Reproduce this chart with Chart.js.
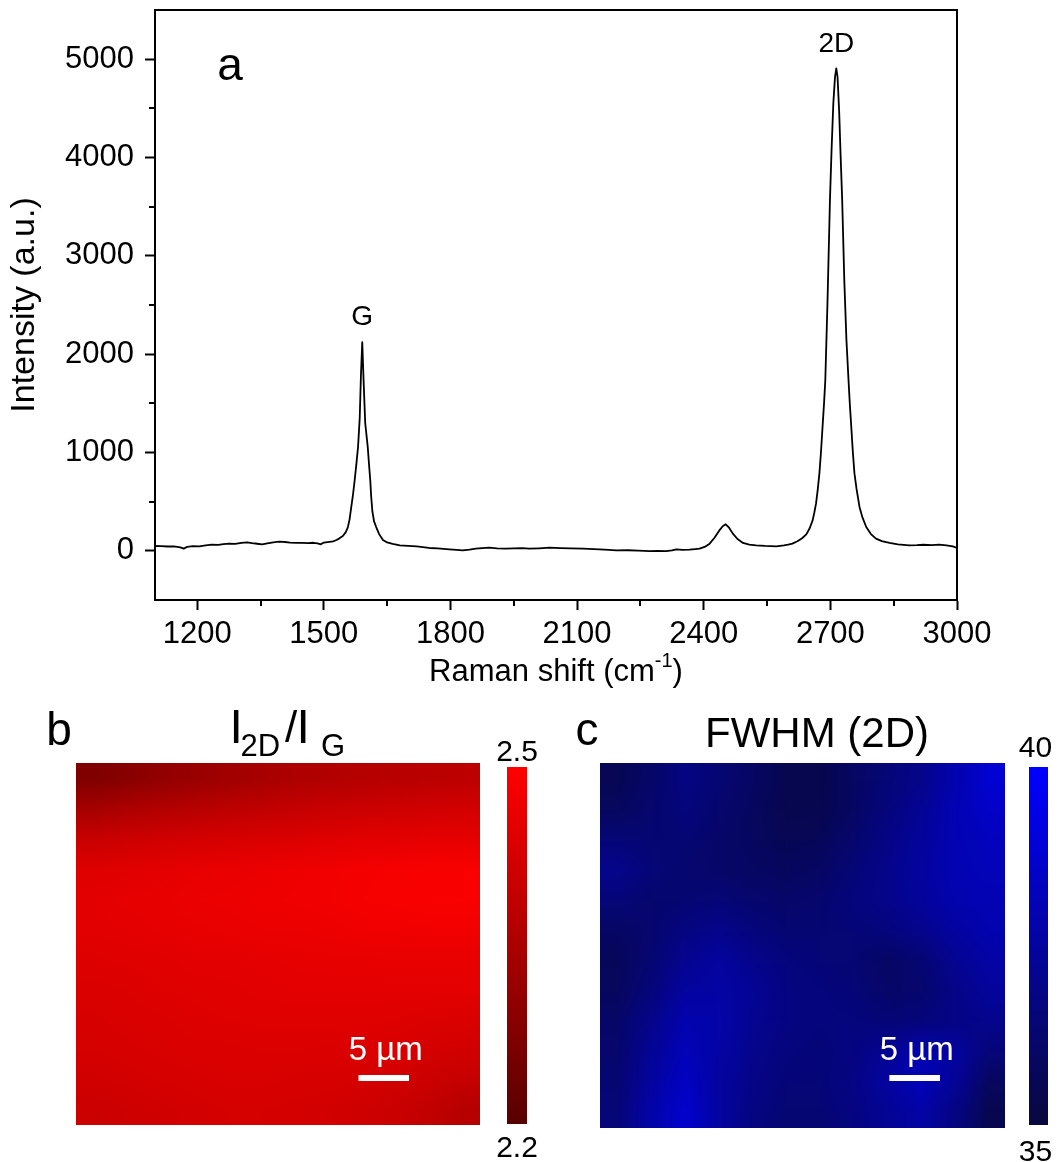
<!DOCTYPE html>
<html>
<head>
<meta charset="utf-8">
<script src="https://cdn.jsdelivr.net/npm/chart.js@4.4.0/dist/chart.umd.min.js"></script>
<style>
  html, body { margin: 0; padding: 0; background: #fff; }
  #wrap { position: relative; width: 1060px; height: 1162px; overflow: hidden; }
  canvas { position: absolute; }
</style>
</head>
<body>
<div id="wrap">
  <canvas id="spec" width="1060" height="690" style="left:0;top:0"></canvas>
  <!-- the 12x12 maps are drawn one pixel per cell and scaled up by the browser -->
  <canvas id="mapB" width="12" height="12" style="left:76px;top:763px;width:404px;height:362px"></canvas>
  <canvas id="mapC" width="12" height="12" style="left:600px;top:763px;width:405px;height:365px"></canvas>
  <canvas id="barB" width="545" height="472" style="left:0;top:690px"></canvas>
  <canvas id="barC" width="530" height="472" style="left:530px;top:690px"></canvas>
</div>
<script>
const FONT = "'Liberation Sans', Arial, sans-serif";
Chart.defaults.font.family = FONT;
Chart.defaults.color = '#000';

// ---- panel a: Raman spectrum ----
const shift = [1100, 1115, 1130, 1145, 1160, 1168, 1176, 1190, 1205, 1220, 1235, 1250, 1262, 1275, 1290,
  1305, 1318, 1330, 1342, 1354, 1366, 1380, 1394, 1408, 1420, 1435, 1449, 1462, 1475, 1485, 1493, 1500,
  1513, 1522, 1530, 1537, 1545, 1552, 1557, 1561, 1565, 1569, 1573, 1577, 1581, 1585, 1588, 1591,
  1594, 1598, 1604, 1607, 1610, 1612, 1615, 1619, 1624, 1631, 1640, 1650, 1663, 1680, 1700,
  1720, 1749, 1770, 1797, 1815, 1829, 1845, 1860, 1875, 1892, 1910, 1931, 1950, 1970, 1987, 2010, 2035,
  2060, 2085, 2114, 2140, 2165, 2193, 2220, 2245, 2272, 2290, 2311, 2325, 2335, 2350, 2366, 2380, 2390,
  2402, 2414, 2425, 2437, 2445, 2452, 2460, 2469, 2480, 2493, 2508, 2524, 2545, 2572, 2590, 2600, 2610,
  2622, 2633, 2643, 2651, 2658, 2662, 2666, 2670, 2674, 2678, 2682, 2685, 2688, 2693, 2699, 2703, 2707,
  2711, 2714, 2717, 2721, 2724, 2728, 2733, 2738, 2743, 2746, 2749, 2753, 2757, 2762, 2769, 2776, 2785,
  2796, 2808, 2822, 2840, 2860, 2887, 2905, 2920, 2940, 2958, 2975, 2990, 3000];
const intensity = [49, 47, 44, 46, 35, 22, 40, 48, 46, 55, 63, 60, 68, 73, 70,
  80, 86, 78, 72, 66, 75, 85, 93, 90, 84, 80, 80, 78, 82, 76, 66, 84,
  92, 96, 110, 127, 150, 190, 242, 320, 446, 570, 717, 880, 1056, 1350, 1800, 2121,
  1750, 1300, 1056, 880, 717, 560, 400, 300, 242, 170, 110, 85, 70, 55, 50,
  45, 29, 25, 15, 10, 5, 12, 22, 28, 32, 26, 22, 25, 28, 22, 26, 32,
  28, 24, 22, 18, 12, 5, 6, 2, -2, 0, -2, 4, 15, 10, 12, 18, 22,
  40, 73, 130, 208, 250, 270, 235, 175, 120, 80, 64, 56, 50, 46, 55, 62, 73,
  97, 128, 168, 230, 310, 390, 480, 620, 785, 1020, 1297, 1500, 1735, 2500, 3565, 4100, 4550,
  4820, 4905, 4820, 4450, 4050, 3565, 2750, 2150, 1735, 1500, 1297, 1020, 790, 630, 446, 340, 242,
  170, 124, 98, 80, 66, 56, 58, 62, 58, 63, 55, 45, 30];

const xTicks = [1200, 1500, 1800, 2100, 2400, 2700, 3000];
const xMinor = [1350, 1650, 1950, 2250, 2550, 2850];
const yTicks = [0, 1000, 2000, 3000, 4000, 5000];
const yMinor = [500, 1500, 2500, 3500, 4500];

const peakNames = ['G', '2D'];
const peakShift = [1591, 2714];
const peakHeight = [2121, 4905];

// ---- panels b, c: 12 x 12 maps, rows top to bottom ----
const ratioGrid = [
  [2.271, 2.288, 2.306, 2.318, 2.332, 2.343, 2.354, 2.361, 2.368, 2.373, 2.378, 2.382],
  [2.341, 2.354, 2.364, 2.373, 2.382, 2.389, 2.396, 2.403, 2.408, 2.414, 2.417, 2.421],
  [2.403, 2.410, 2.417, 2.422, 2.428, 2.433, 2.438, 2.444, 2.449, 2.452, 2.456, 2.456],
  [2.442, 2.447, 2.452, 2.458, 2.463, 2.466, 2.472, 2.477, 2.482, 2.486, 2.489, 2.491],
  [2.452, 2.456, 2.459, 2.465, 2.468, 2.472, 2.475, 2.479, 2.484, 2.488, 2.491, 2.491],
  [2.449, 2.452, 2.456, 2.459, 2.463, 2.465, 2.466, 2.470, 2.474, 2.475, 2.477, 2.477],
  [2.440, 2.444, 2.447, 2.451, 2.452, 2.454, 2.456, 2.458, 2.459, 2.461, 2.461, 2.461],
  [2.435, 2.438, 2.442, 2.445, 2.447, 2.449, 2.451, 2.452, 2.452, 2.452, 2.452, 2.451],
  [2.429, 2.433, 2.436, 2.440, 2.442, 2.444, 2.445, 2.445, 2.444, 2.442, 2.438, 2.435],
  [2.424, 2.428, 2.431, 2.435, 2.436, 2.438, 2.438, 2.436, 2.435, 2.431, 2.424, 2.417],
  [2.417, 2.421, 2.424, 2.428, 2.431, 2.431, 2.429, 2.428, 2.424, 2.417, 2.406, 2.396],
  [2.406, 2.412, 2.417, 2.421, 2.424, 2.424, 2.422, 2.419, 2.414, 2.403, 2.389, 2.368]
];
const fwhmGrid = [
  [35.60, 36.11, 36.76, 36.37, 35.98, 35.47, 35.41, 35.98, 36.50, 37.02, 37.93, 38.83],
  [35.86, 36.24, 36.63, 36.24, 35.86, 35.47, 35.47, 35.98, 36.63, 37.28, 38.06, 38.58],
  [36.50, 36.37, 36.37, 36.11, 35.86, 35.60, 35.73, 36.24, 36.89, 37.41, 38.06, 38.32],
  [37.02, 36.50, 36.24, 36.11, 35.98, 35.86, 35.98, 36.50, 37.02, 37.54, 38.06, 38.19],
  [36.50, 36.24, 36.37, 36.50, 36.24, 36.11, 36.24, 36.63, 37.02, 37.41, 37.93, 38.06],
  [35.98, 36.24, 36.76, 37.02, 36.63, 36.37, 36.37, 36.50, 36.63, 37.02, 37.54, 37.93],
  [35.73, 36.37, 37.15, 37.54, 37.02, 36.63, 36.50, 36.37, 35.98, 36.37, 37.15, 37.67],
  [35.86, 36.63, 37.54, 37.67, 37.28, 36.76, 36.63, 36.50, 36.11, 36.24, 36.89, 37.41],
  [36.11, 37.02, 37.93, 37.80, 37.15, 36.76, 36.63, 36.63, 36.50, 36.63, 36.89, 37.02],
  [36.24, 37.28, 38.19, 37.67, 37.02, 36.63, 36.50, 36.76, 37.28, 37.93, 37.54, 36.50],
  [36.37, 37.54, 38.45, 37.54, 36.89, 36.50, 36.50, 36.89, 37.54, 38.19, 37.28, 35.86],
  [36.50, 37.80, 38.71, 37.54, 36.76, 36.37, 36.37, 36.76, 37.28, 37.67, 36.76, 35.47]
];
const ratioRange = [2.2, 2.5];
const fwhmRange = [35, 40];
const ratioBarLabels = ['2.2', '2.5'];
const fwhmBarLabels = ['35', '40'];
const mapWidthUm = 40;
const scaleBarUm = 5;
const scaleBarText = '5 \u00b5m';

function redOf(v) {
  const t = Math.max(0, Math.min(1, (v - ratioRange[0]) / (ratioRange[1] - ratioRange[0])));
  return `rgb(${Math.round(88 + 167 * t)},0,0)`;
}
function blueOf(v) {
  const t = Math.max(0, Math.min(1, (v - fwhmRange[0]) / (fwhmRange[1] - fwhmRange[0])));
  const g = Math.round(8 - 8 * t);
  return `rgb(${g},${g},${Math.round(62 + 193 * t)})`;
}

// frame, minor ticks, peak names, panel letter, x title
const specDecor = {
  id: 'specDecor',
  afterDraw(chart) {
    const {ctx, chartArea: a, scales: {x, y}} = chart;
    ctx.save();
    ctx.strokeStyle = '#000';
    ctx.lineWidth = 2;
    ctx.beginPath();
    ctx.moveTo(a.left - 1, a.top);
    ctx.lineTo(a.right, a.top);
    ctx.lineTo(a.right, a.bottom + 1);
    ctx.stroke();

    ctx.beginPath();
    xMinor.forEach(v => {
      const px = Math.round(x.getPixelForValue(v));
      ctx.moveTo(px, a.bottom);
      ctx.lineTo(px, a.bottom + 6);
    });
    yMinor.forEach(v => {
      const py = Math.round(y.getPixelForValue(v));
      ctx.moveTo(a.left, py);
      ctx.lineTo(a.left - 6, py);
    });
    ctx.stroke();

    ctx.fillStyle = '#000';
    ctx.textAlign = 'center';
    ctx.textBaseline = 'alphabetic';
    ctx.font = `28px ${FONT}`;
    peakNames.forEach((n, i) => {
      ctx.fillText(n, x.getPixelForValue(peakShift[i]), y.getPixelForValue(peakHeight[i]) - 17);
    });

    ctx.font = `46px ${FONT}`;
    ctx.fillText('a', a.left + 75, a.top + 70);

    // x axis title with superscript
    const t1 = 'Raman shift (cm', t2 = '-1', t3 = ')';
    ctx.font = `31px ${FONT}`;
    const w1 = ctx.measureText(t1).width, w3 = ctx.measureText(t3).width;
    ctx.font = `20px ${FONT}`;
    const w2 = ctx.measureText(t2).width;
    let sx = (a.left + a.right) / 2 - (w1 + w2 + w3) / 2;
    const base = a.bottom + 81;
    ctx.textAlign = 'left';
    ctx.font = `31px ${FONT}`;
    ctx.fillText(t1, sx, base);
    sx += w1;
    ctx.font = `20px ${FONT}`;
    ctx.fillText(t2, sx, base - 14);
    sx += w2;
    ctx.font = `31px ${FONT}`;
    ctx.fillText(t3, sx, base);
    ctx.restore();
  }
};

new Chart(document.getElementById('spec'), {
  type: 'line',
  data: {
    datasets: [{
      data: shift.map((s, i) => ({x: s, y: intensity[i]})),
      borderColor: '#000',
      borderWidth: 1.8,
      borderJoinStyle: 'round',
      pointRadius: 0,
      tension: 0,
      fill: false
    }]
  },
  options: {
    responsive: false,
    animation: false,
    devicePixelRatio: 1,
    layout: {padding: {left: 0, top: 10, right: 103, bottom: 0}},
    plugins: {legend: {display: false}, tooltip: {enabled: false}},
    scales: {
      x: {
        type: 'linear',
        min: 1100,
        max: 3000,
        afterBuildTicks: s => { s.ticks = xTicks.map(v => ({value: v})); },
        afterFit: s => { s.height = 90; s.paddingLeft = 0; s.paddingRight = 0; },
        ticks: {autoSkip: false, maxRotation: 0, minRotation: 0, font: {size: 31}, color: '#000', padding: 6,
          callback: v => String(v)},
        grid: {drawOnChartArea: false, drawTicks: true, tickLength: 10, tickWidth: 2, tickColor: '#000'},
        border: {display: true, color: '#000', width: 2}
      },
      y: {
        min: -500,
        max: 5500,
        afterBuildTicks: s => { s.ticks = yTicks.map(v => ({value: v})); },
        afterFit: s => { s.width = 155; s.paddingTop = 0; s.paddingBottom = 0; },
        ticks: {autoSkip: false, font: {size: 31}, color: '#000', padding: 11, callback: v => String(v)},
        grid: {drawOnChartArea: false, drawTicks: true, tickLength: 10, tickWidth: 2, tickColor: '#000'},
        border: {display: true, color: '#000', width: 2},
        title: {display: true, text: 'Intensity (a.u.)', font: {size: 34}, color: '#000', padding: {top: 4, bottom: 0}}
      }
    }
  },
  plugins: [specDecor]
});

// ---- maps: one pixel per cell ----
function mapChart(id, grid, colorOf) {
  const labels = grid[0].map((_, i) => i);
  const datasets = grid.slice().reverse().map(row => ({
    data: row.map(() => 1),
    backgroundColor: row.map(v => colorOf(v)),
    borderWidth: 0,
    inflateAmount: 0,
    barPercentage: 1,
    categoryPercentage: 1,
    stack: 'map'
  }));
  return new Chart(document.getElementById(id), {
    type: 'bar',
    data: {labels, datasets},
    options: {
      responsive: false,
      animation: false,
      devicePixelRatio: 1,
      layout: {padding: 0},
      plugins: {legend: {display: false}, tooltip: {enabled: false}},
      scales: {
        x: {display: false, stacked: true},
        y: {display: false, stacked: true, min: 0, max: grid.length}
      }
    }
  });
}

mapChart('mapB', ratioGrid, redOf);
mapChart('mapC', fwhmGrid, blueOf);

// ---- colour bars with panel letter, title and scale bar ----
const panelDecor = {
  id: 'panelDecor',
  afterDraw(chart, args, opts) {
    const {ctx, chartArea: a} = chart;
    ctx.save();
    ctx.fillStyle = '#000';
    ctx.textBaseline = 'alphabetic';
    ctx.textAlign = 'center';

    // colour bar end labels
    const cx = (a.left + a.right) / 2 + opts.dx;
    ctx.font = `30px ${FONT}`;
    ctx.fillText(opts.labels[1], cx, a.top - opts.topGap);
    ctx.fillText(opts.labels[0], cx, a.bottom + opts.bottomGap);

    ctx.font = `46px ${FONT}`;
    ctx.fillText(opts.letter, opts.letterX, opts.letterY);
    opts.title.forEach(p => {
      ctx.font = `${p.size}px ${FONT}`;
      ctx.textAlign = p.center ? 'center' : 'left';
      ctx.fillText(p.text, p.x, p.y);
    });

    const m = opts.map;
    const len = (m.right - m.left) * scaleBarUm / mapWidthUm;
    const bx = m.right - opts.barRight - len;
    const by = m.bottom - opts.barBottom - 6;
    ctx.fillStyle = '#fff';
    ctx.fillRect(bx, by, len, 6);
    ctx.textAlign = 'center';
    ctx.font = `33px ${FONT}`;
    ctx.fillText(scaleBarText, bx + len / 2 + 2, by - 15);
    ctx.restore();
  }
};

function colorBar(id, range, colorOf, padding, decor) {
  return new Chart(document.getElementById(id), {
    type: 'bar',
    data: {
      labels: ['scale'],
      datasets: [{
        data: [[range[0], range[1]]],
        borderWidth: 0,
        barPercentage: 1,
        categoryPercentage: 1,
        backgroundColor: c => {
          const area = c.chart.chartArea;
          if (!area) return colorOf(range[1]);
          const g = c.chart.ctx.createLinearGradient(0, area.bottom, 0, area.top);
          g.addColorStop(0, colorOf(range[0]));
          g.addColorStop(1, colorOf(range[1]));
          return g;
        }
      }]
    },
    options: {
      responsive: false,
      animation: false,
      devicePixelRatio: 1,
      layout: {padding},
      plugins: {legend: {display: false}, tooltip: {enabled: false}, panelDecor: decor},
      scales: {
        x: {display: false},
        y: {display: false, min: range[0], max: range[1]}
      }
    },
    plugins: [panelDecor]
  });
}

colorBar('barB', ratioRange, redOf, {left: 507, right: 18, top: 77, bottom: 38}, {
  labels: ratioBarLabels, dx: 0, topGap: 6, bottomGap: 33,
  letter: 'b', letterX: 59, letterY: 55,
  title: [
    {text: 'I', size: 48, x: 229.5, y: 53},
    {text: '2D', size: 31, x: 240.5, y: 66},
    {text: '/', size: 44, x: 285, y: 52},
    {text: 'I', size: 48, x: 296.5, y: 53},
    {text: 'G', size: 31, x: 321, y: 66}
  ],
  map: {left: 76, right: 480, bottom: 435},
  barRight: 71, barBottom: 44
});
colorBar('barC', fwhmRange, blueOf, {left: 499, right: 12, top: 77, bottom: 37}, {
  labels: fwhmBarLabels, dx: -3, topGap: 10, bottomGap: 36,
  letter: 'c', letterX: 57, letterY: 55,
  title: [{text: 'FWHM (2D)', size: 42, x: 287, y: 57, center: true}],
  map: {left: 70, right: 475, bottom: 438},
  barRight: 65, barBottom: 47
});
</script>
</body>
</html>
